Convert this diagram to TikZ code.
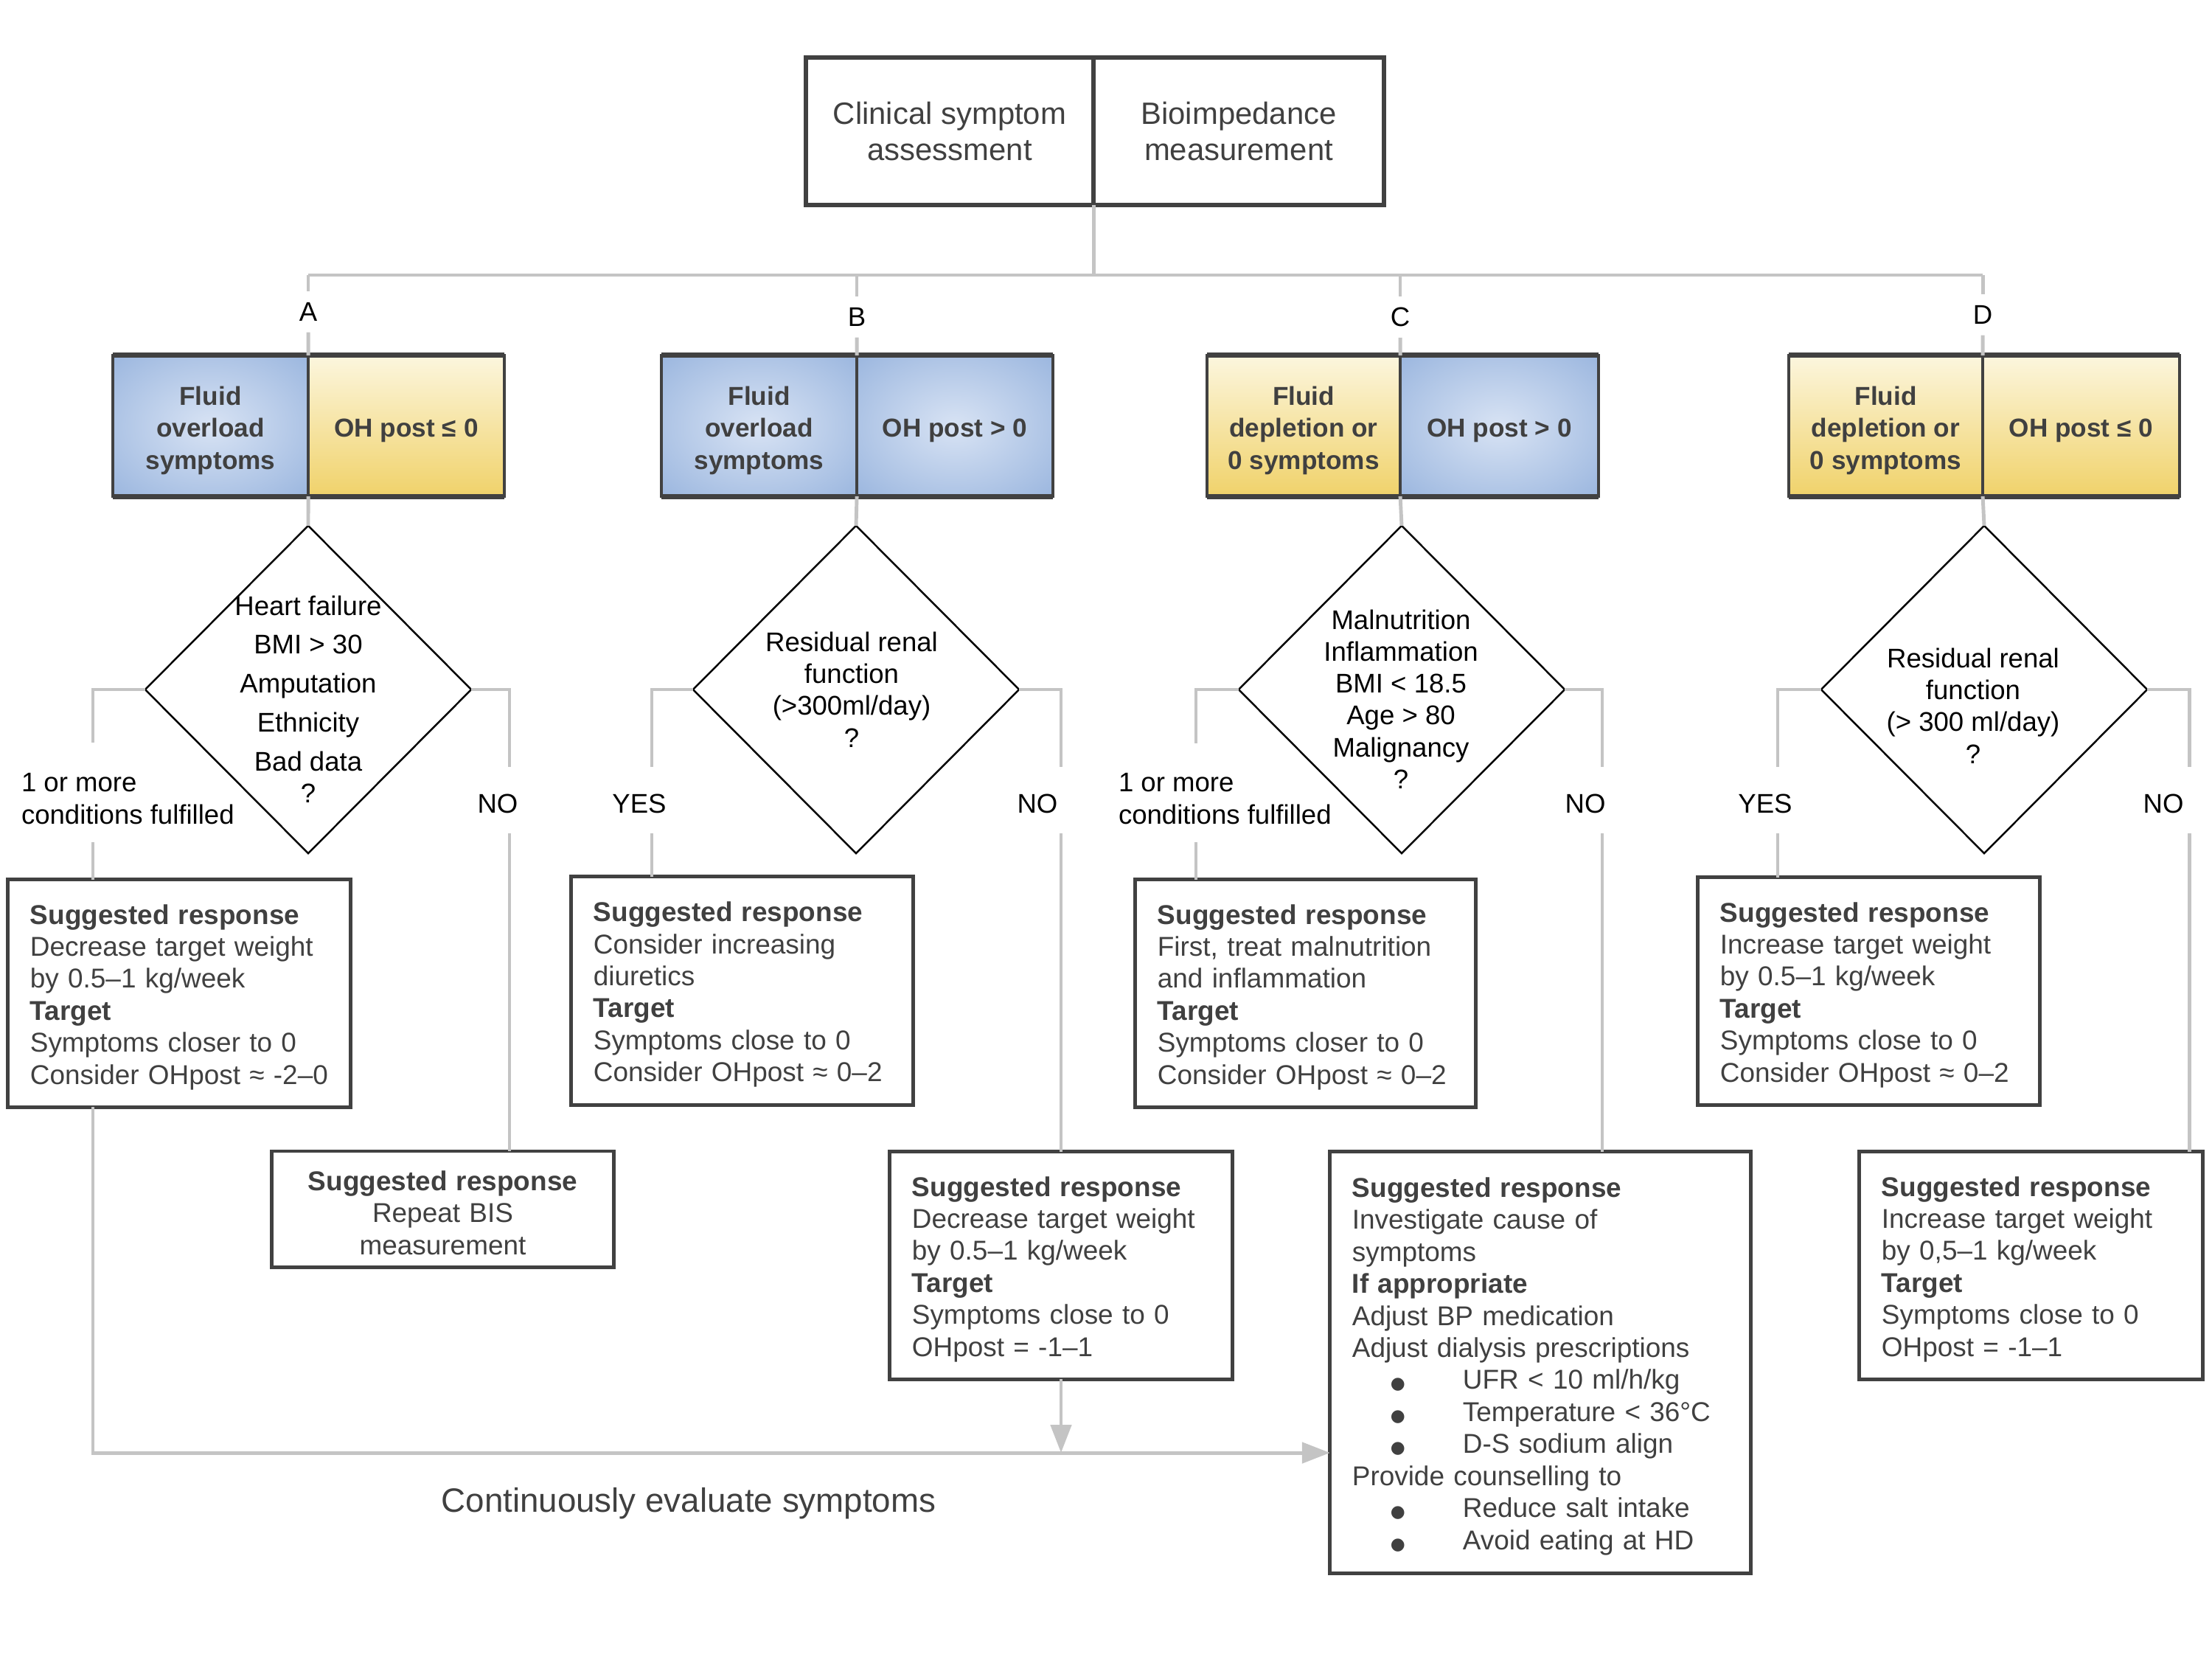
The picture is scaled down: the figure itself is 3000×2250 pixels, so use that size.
\documentclass[tikz,border=0pt]{standalone}
\usepackage{fontspec}
\setmainfont{Liberation Sans}
\newfontfamily\dejavu{DejaVu Sans}
\usetikzlibrary{arrows.meta,shapes.geometric}
\definecolor{boxline}{HTML}{414141}
\definecolor{txt}{HTML}{404040}
\definecolor{lgray}{HTML}{C4C4C4}
\definecolor{bluein}{HTML}{D8E3F4}
\definecolor{blueout}{HTML}{82A4D6}
\definecolor{yeltop}{HTML}{FCF6DE}
\definecolor{yelbot}{HTML}{F0D26A}
\pgfdeclareradialshading{bluerad}{\pgfpoint{0bp}{0bp}}{color(0bp)=(bluein); color(50bp)=(blueout); color(75bp)=(blueout)}
\newcommand{\mybul}{\makebox[1.5cm][l]{\hspace{0.52cm}{\dejavu\fontsize{6.5}{6.5}\selectfont ●}}}
\newcommand{\dnr}{\rule{0pt}{0.37cm}}
\newcommand{\dnc}{\rule{0pt}{0.38cm}}
\begin{document}
\begin{tikzpicture}[x=0.01cm,y=-0.01cm,
  every node/.style={outer sep=0pt},
  topcell/.style={draw=boxline, line width=1.6pt, minimum height=2cm, inner sep=0pt, align=center, text=txt, font=\fontsize{11.9}{14.2}\selectfont},
  cell/.style={draw=boxline, line width=1.2pt, minimum height=1.91cm, inner sep=0pt, align=center, text=txt, font=\bfseries\fontsize{10}{12.4}\selectfont},
  bluecell/.style={cell, shade, shading=bluerad},
  yelcell/.style={cell, top color=yeltop, bottom color=yelbot},
  decision/.style={diamond, draw=black, line width=0.7pt, minimum width=4.42cm, minimum height=4.44cm, inner sep=0pt},
  dtext/.style={align=center, inner sep=0pt, font=\fontsize{10.4}{12.3}\selectfont},
  lbl/.style={inner sep=0pt, font=\fontsize{10.4}{12.3}\selectfont},
  brlbl/.style={inner xsep=0pt, inner ysep=0.15cm, font=\fontsize{10.4}{12.3}\selectfont},
  resp/.style={draw=boxline, line width=1.4pt, inner xsep=0.3cm, inner ysep=0pt, align=left, text=txt, font=\fontsize{10.5}{12.36}\selectfont},
  link/.style={draw=lgray, line width=1.4pt},
  arr/.style={link, -{Triangle[width=0.28cm,length=0.38cm]}}
]
\useasboundingbox (0,0) rectangle (3000,2250);

% top box
\node[topcell, minimum width=3.9cm] (cs) at (1288,178) {Clinical symptom\\assessment};
\node[topcell, minimum width=3.94cm] (bi) at (1680,178) {Bioimpedance\\measurement};

% colored boxes
\node[bluecell, minimum width=2.65cm] (a1) at (285.5,577.5) {\dnc Fluid\\overload\\symptoms};
\node[yelcell, minimum width=2.66cm] (a2) at (551,577.5) {\dnc OH post ≤ 0};
\node[bluecell, minimum width=2.65cm] (b1) at (1029.5,577.5) {\dnc Fluid\\overload\\symptoms};
\node[bluecell, minimum width=2.66cm] (b2) at (1295,577.5) {\dnc OH post > 0};
\node[yelcell, minimum width=2.62cm] (c1) at (1768,577.5) {\dnc Fluid\\depletion or\\0 symptoms};
\node[bluecell, minimum width=2.69cm] (c2) at (2033.5,577.5) {\dnc OH post > 0};
\node[yelcell, minimum width=2.63cm] (d1) at (2557.5,577.5) {\dnc Fluid\\depletion or\\0 symptoms};
\node[yelcell, minimum width=2.67cm] (d2) at (2822.5,577.5) {\dnc OH post ≤ 0};
\foreach \l/\r in {a1/a2,b1/b2,c1/c2,d1/d2}{
  \draw[boxline, line width=2pt] (\l.north west) -- (\r.north east);
  \draw[boxline, line width=2pt] (\l.south west) -- (\r.south east);
}

% branch labels
\node[brlbl] (labA) at (418,423) {A};
\node[brlbl] (labB) at (1162,430) {B};
\node[brlbl] (labC) at (1899,430) {C};
\node[brlbl] (labD) at (2689,427) {D};

\coordinate (busA) at (418,373);
\coordinate (busB) at (1162,373);
\coordinate (busC) at (1899,373);
\coordinate (busD) at (2689,373);
\draw[link] (cs.south east) -- (cs.south east |- busA);
\draw[link] (busA) -- (busD);
\foreach \bb/\lab/\bx in {busA/labA/a1,busB/labB/b1,busC/labC/c1,busD/labD/d1}{
  \draw[link] (\bb) -- (\lab);
  \draw[link] (\lab) -- (\bx.north east);
}

% diamonds
\node[decision] (dA) at (418,935) {};
\node[decision] (dB) at (1161,935) {};
\node[decision] (dC) at (1901,935) {};
\node[decision] (dD) at (2691,935) {};
\draw[link] (a1.south east) -- (dA.north);
\draw[link] (b1.south east) -- (dB.north);
\draw[link] (c1.south east) -- (dC.north);
\draw[link] (d1.south east) -- (dD.north);

\node[dtext] (tA) at (418,948) {Heart failure\\[2.7pt]BMI > 30\\[2.7pt]Amputation\\[2.7pt]Ethnicity\\[2.7pt]Bad data\\?};
\node[dtext] (tB) at (1155,935) {Residual renal\\function\\(>300ml/day)\\?};
\node[dtext] (tC) at (1900,948) {Malnutrition\\Inflammation\\BMI < 18.5\\Age > 80\\Malignancy\\?};
\node[dtext] (tD) at (2676,957) {Residual renal\\function\\(> 300 ml/day)\\?};

% branch labels beside diamonds
\node[lbl, anchor=west, align=left] (condA) at (29,1083) {1 or more\\conditions fulfilled};
\node[lbl] (noA) at (675,1090) {NO};
\node[lbl] (yesB) at (867,1090) {YES};
\node[lbl] (noB) at (1407,1090) {NO};
\node[lbl, anchor=west, align=left] (condC) at (1517,1083) {1 or more\\conditions fulfilled};
\node[lbl] (noC) at (2150,1090) {NO};
\node[lbl] (yesD) at (2394,1090) {YES};
\node[lbl] (noD) at (2934,1090) {NO};

% response boxes
\node[resp, text width=4.04cm, minimum height=3.08cm] (r1) at (243,1347) {\dnr\textbf{Suggested response}\\Decrease target weight\\by 0.5–1 kg/week\\\textbf{Target}\\Symptoms closer to 0\\Consider OHpost ≈ -2–0};
\node[resp, align=center, text width=4.03cm, minimum height=1.57cm] (r2) at (600.5,1639.5) {\dnr\textbf{Suggested response}\\Repeat BIS\\measurement};
\node[resp, text width=4.03cm, minimum height=3.09cm] (r3) at (1006.5,1343.5) {\dnr\textbf{Suggested response}\\Consider increasing\\diuretics\\\textbf{Target}\\Symptoms close to 0\\Consider OHpost ≈ 0–2};
\node[resp, text width=4.04cm, minimum height=3.08cm] (r4) at (1439,1716) {\dnr\textbf{Suggested response}\\Decrease target weight\\by 0.5–1 kg/week\\\textbf{Target}\\Symptoms close to 0\\OHpost = -1–1};
\node[resp, text width=4.01cm, minimum height=3.08cm] (r5) at (1770.5,1347) {\dnr\textbf{Suggested response}\\First, treat malnutrition\\and inflammation\\\textbf{Target}\\Symptoms closer to 0\\Consider OHpost ≈ 0–2};
\node[resp, text width=5.1cm, minimum height=5.71cm] (r6) at (2089,1847.5) {\dnr\textbf{Suggested response}\\Investigate cause of\\symptoms\\\textbf{If appropriate}\\Adjust BP medication\\Adjust dialysis prescriptions\\\mybul UFR < 10 ml/h/kg\\\mybul Temperature < 36°C\\\mybul D-S sodium align\\Provide counselling to\\\mybul Reduce salt intake\\\mybul Avoid eating at HD};
\node[resp, text width=4.03cm, minimum height=3.08cm] (r7) at (2534.5,1344) {\dnr\textbf{Suggested response}\\Increase target weight\\by 0.5–1 kg/week\\\textbf{Target}\\Symptoms close to 0\\Consider OHpost ≈ 0–2};
\node[resp, text width=4.05cm, minimum height=3.08cm] (r8) at (2754.5,1716) {\dnr\textbf{Suggested response}\\Increase target weight\\by 0,5–1 kg/week\\\textbf{Target}\\Symptoms close to 0\\OHpost = -1–1};

% gap coordinates
\coordinate (aL1) at (126,1007); \coordinate (aL2) at (126,1142);
\coordinate (aR1) at (691,1040); \coordinate (aR2) at (691,1130);
\coordinate (bL1) at (884,1040); \coordinate (bL2) at (884,1130);
\coordinate (bR1) at (1439,1040); \coordinate (bR2) at (1439,1130);
\coordinate (cL1) at (1622,1008); \coordinate (cL2) at (1622,1142);
\coordinate (cR1) at (2173,1040); \coordinate (cR2) at (2173,1130);
\coordinate (dL1) at (2411,1040); \coordinate (dL2) at (2411,1130);
\coordinate (dR1) at (2969,1040); \coordinate (dR2) at (2969,1130);

\draw[link] (dA.west) -| (aL1);  \draw[link] (aL2) -- (aL2 |- r1.north);
\draw[link] (dA.east) -| (aR1);  \draw[link] (aR2) -- (aR2 |- r2.north);
\draw[link] (dB.west) -| (bL1);  \draw[link] (bL2) -- (bL2 |- r3.north);
\draw[link] (dB.east) -| (bR1);  \draw[link] (bR2) -- (bR2 |- r4.north);
\draw[link] (dC.west) -| (cL1);  \draw[link] (cL2) -- (cL2 |- r5.north);
\draw[link] (dC.east) -| (cR1);  \draw[link] (cR2) -- (cR2 |- r6.north);
\draw[link] (dD.west) -| (dL1);  \draw[link] (dL2) -- (dL2 |- r7.north);
\draw[link] (dD.east) -| (dR1);  \draw[link] (dR2) -- (dR2 |- r8.north);

% feedback loop
\coordinate (fb) at (126,1970);
\draw[arr] (r1.south -| fb) -- (fb) -- (fb -| r6.west);
\draw[arr] (r4.south) -- (r4.south |- fb);

\node[text=txt, inner sep=0pt, font=\fontsize{13}{15}\selectfont] (cont) at (934,2039) {Continuously evaluate symptoms};
\end{tikzpicture}
\end{document}
